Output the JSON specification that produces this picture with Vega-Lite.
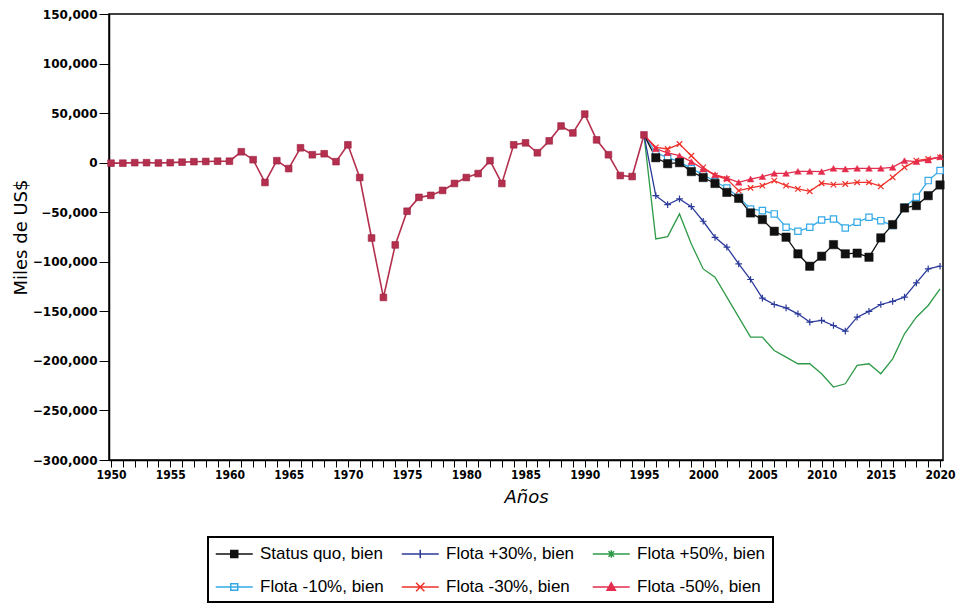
{
  "$schema": "https://vega.github.io/schema/vega-lite/v6.json",
  "width": 834,
  "height": 446,
  "autosize": {"type": "none"},
  "padding": {"left": 109, "top": 14, "right": 15, "bottom": 147},
  "background": "white",
  "config": {
    "view": {"stroke": "black", "strokeWidth": 1.5},
    "axis": {"domainColor": "black", "domainWidth": 1.5, "tickColor": "black", "labelColor": "black", "titleColor": "black", "grid": false},
    "legend": {"strokeWidth": 2}
  },
  "datasets": {
    "hist": [
      {"year": 1950, "value": -500}, {"year": 1951, "value": -500}, {"year": 1952, "value": 0}, {"year": 1953, "value": 0},
      {"year": 1954, "value": -300}, {"year": 1955, "value": 0}, {"year": 1956, "value": 500}, {"year": 1957, "value": 1000},
      {"year": 1958, "value": 1200}, {"year": 1959, "value": 1500}, {"year": 1960, "value": 1500}, {"year": 1961, "value": 11000},
      {"year": 1962, "value": 3000}, {"year": 1963, "value": -20000}, {"year": 1964, "value": 2000}, {"year": 1965, "value": -6000},
      {"year": 1966, "value": 15000}, {"year": 1967, "value": 8000}, {"year": 1968, "value": 9000}, {"year": 1969, "value": 1000},
      {"year": 1970, "value": 18000}, {"year": 1971, "value": -15000}, {"year": 1972, "value": -76000}, {"year": 1973, "value": -136000},
      {"year": 1974, "value": -83000}, {"year": 1975, "value": -49000}, {"year": 1976, "value": -35000}, {"year": 1977, "value": -33000},
      {"year": 1978, "value": -28000}, {"year": 1979, "value": -21000}, {"year": 1980, "value": -15000}, {"year": 1981, "value": -11000},
      {"year": 1982, "value": 2000}, {"year": 1983, "value": -21000}, {"year": 1984, "value": 18000}, {"year": 1985, "value": 20000},
      {"year": 1986, "value": 10000}, {"year": 1987, "value": 22000}, {"year": 1988, "value": 37000}, {"year": 1989, "value": 30000},
      {"year": 1990, "value": 49000}, {"year": 1991, "value": 23000}, {"year": 1992, "value": 8000}, {"year": 1993, "value": -13000},
      {"year": 1994, "value": -14000}, {"year": 1995, "value": 28000}
    ],
    "scen": [
      {"series": "Status quo, bien", "year": 1995, "value": 28000}, {"series": "Status quo, bien", "year": 1996, "value": 5000},
      {"series": "Status quo, bien", "year": 1997, "value": -1000}, {"series": "Status quo, bien", "year": 1998, "value": 0},
      {"series": "Status quo, bien", "year": 1999, "value": -9000}, {"series": "Status quo, bien", "year": 2000, "value": -15000},
      {"series": "Status quo, bien", "year": 2001, "value": -21000}, {"series": "Status quo, bien", "year": 2002, "value": -30000},
      {"series": "Status quo, bien", "year": 2003, "value": -36000}, {"series": "Status quo, bien", "year": 2004, "value": -50700},
      {"series": "Status quo, bien", "year": 2005, "value": -57400}, {"series": "Status quo, bien", "year": 2006, "value": -69200},
      {"series": "Status quo, bien", "year": 2007, "value": -75200}, {"series": "Status quo, bien", "year": 2008, "value": -92000},
      {"series": "Status quo, bien", "year": 2009, "value": -104500}, {"series": "Status quo, bien", "year": 2010, "value": -94400},
      {"series": "Status quo, bien", "year": 2011, "value": -82700}, {"series": "Status quo, bien", "year": 2012, "value": -92000},
      {"series": "Status quo, bien", "year": 2013, "value": -91300}, {"series": "Status quo, bien", "year": 2014, "value": -95400},
      {"series": "Status quo, bien", "year": 2015, "value": -75900}, {"series": "Status quo, bien", "year": 2016, "value": -62500},
      {"series": "Status quo, bien", "year": 2017, "value": -45700}, {"series": "Status quo, bien", "year": 2018, "value": -43300},
      {"series": "Status quo, bien", "year": 2019, "value": -33300}, {"series": "Status quo, bien", "year": 2020, "value": -22500},

      {"series": "Flota +30%, bien", "year": 1995, "value": 28000}, {"series": "Flota +30%, bien", "year": 1996, "value": -33300},
      {"series": "Flota +30%, bien", "year": 1997, "value": -42300}, {"series": "Flota +30%, bien", "year": 1998, "value": -36600},
      {"series": "Flota +30%, bien", "year": 1999, "value": -44400}, {"series": "Flota +30%, bien", "year": 2000, "value": -59100},
      {"series": "Flota +30%, bien", "year": 2001, "value": -75300}, {"series": "Flota +30%, bien", "year": 2002, "value": -85300},
      {"series": "Flota +30%, bien", "year": 2003, "value": -102100}, {"series": "Flota +30%, bien", "year": 2004, "value": -117900},
      {"series": "Flota +30%, bien", "year": 2005, "value": -136700}, {"series": "Flota +30%, bien", "year": 2006, "value": -143100},
      {"series": "Flota +30%, bien", "year": 2007, "value": -146500}, {"series": "Flota +30%, bien", "year": 2008, "value": -152500},
      {"series": "Flota +30%, bien", "year": 2009, "value": -160900}, {"series": "Flota +30%, bien", "year": 2010, "value": -159200},
      {"series": "Flota +30%, bien", "year": 2011, "value": -164300}, {"series": "Flota +30%, bien", "year": 2012, "value": -170000},
      {"series": "Flota +30%, bien", "year": 2013, "value": -155900}, {"series": "Flota +30%, bien", "year": 2014, "value": -150100},
      {"series": "Flota +30%, bien", "year": 2015, "value": -143100}, {"series": "Flota +30%, bien", "year": 2016, "value": -140000},
      {"series": "Flota +30%, bien", "year": 2017, "value": -135700}, {"series": "Flota +30%, bien", "year": 2018, "value": -121300},
      {"series": "Flota +30%, bien", "year": 2019, "value": -107200}, {"series": "Flota +30%, bien", "year": 2020, "value": -104500},

      {"series": "Flota +50%, bien", "year": 1995, "value": 28000}, {"series": "Flota +50%, bien", "year": 1996, "value": -76900},
      {"series": "Flota +50%, bien", "year": 1997, "value": -74600}, {"series": "Flota +50%, bien", "year": 1998, "value": -51700},
      {"series": "Flota +50%, bien", "year": 1999, "value": -82000}, {"series": "Flota +50%, bien", "year": 2000, "value": -107200},
      {"series": "Flota +50%, bien", "year": 2001, "value": -115600}, {"series": "Flota +50%, bien", "year": 2002, "value": -135700},
      {"series": "Flota +50%, bien", "year": 2003, "value": -155900}, {"series": "Flota +50%, bien", "year": 2004, "value": -176000},
      {"series": "Flota +50%, bien", "year": 2005, "value": -176000}, {"series": "Flota +50%, bien", "year": 2006, "value": -189500},
      {"series": "Flota +50%, bien", "year": 2007, "value": -196200}, {"series": "Flota +50%, bien", "year": 2008, "value": -202900},
      {"series": "Flota +50%, bien", "year": 2009, "value": -202900}, {"series": "Flota +50%, bien", "year": 2010, "value": -213000},
      {"series": "Flota +50%, bien", "year": 2011, "value": -226400}, {"series": "Flota +50%, bien", "year": 2012, "value": -223100},
      {"series": "Flota +50%, bien", "year": 2013, "value": -204600}, {"series": "Flota +50%, bien", "year": 2014, "value": -202900},
      {"series": "Flota +50%, bien", "year": 2015, "value": -213000}, {"series": "Flota +50%, bien", "year": 2016, "value": -197900},
      {"series": "Flota +50%, bien", "year": 2017, "value": -172700}, {"series": "Flota +50%, bien", "year": 2018, "value": -155900},
      {"series": "Flota +50%, bien", "year": 2019, "value": -144100}, {"series": "Flota +50%, bien", "year": 2020, "value": -127300},

      {"series": "Flota -10%, bien", "year": 1995, "value": 28000}, {"series": "Flota -10%, bien", "year": 1996, "value": 10000},
      {"series": "Flota -10%, bien", "year": 1997, "value": 5000}, {"series": "Flota -10%, bien", "year": 1998, "value": 1000},
      {"series": "Flota -10%, bien", "year": 1999, "value": -6000}, {"series": "Flota -10%, bien", "year": 2000, "value": -12000},
      {"series": "Flota -10%, bien", "year": 2001, "value": -19000}, {"series": "Flota -10%, bien", "year": 2002, "value": -25500},
      {"series": "Flota -10%, bien", "year": 2003, "value": -35000}, {"series": "Flota -10%, bien", "year": 2004, "value": -46700},
      {"series": "Flota -10%, bien", "year": 2005, "value": -48400}, {"series": "Flota -10%, bien", "year": 2006, "value": -51700},
      {"series": "Flota -10%, bien", "year": 2007, "value": -65200}, {"series": "Flota -10%, bien", "year": 2008, "value": -69200},
      {"series": "Flota -10%, bien", "year": 2009, "value": -65200}, {"series": "Flota -10%, bien", "year": 2010, "value": -57800},
      {"series": "Flota -10%, bien", "year": 2011, "value": -56800}, {"series": "Flota -10%, bien", "year": 2012, "value": -65900},
      {"series": "Flota -10%, bien", "year": 2013, "value": -60100}, {"series": "Flota -10%, bien", "year": 2014, "value": -55100},
      {"series": "Flota -10%, bien", "year": 2015, "value": -58500}, {"series": "Flota -10%, bien", "year": 2016, "value": -63500},
      {"series": "Flota -10%, bien", "year": 2017, "value": -45000}, {"series": "Flota -10%, bien", "year": 2018, "value": -34900},
      {"series": "Flota -10%, bien", "year": 2019, "value": -18100}, {"series": "Flota -10%, bien", "year": 2020, "value": -8000},

      {"series": "Flota -30%, bien", "year": 1995, "value": 28000}, {"series": "Flota -30%, bien", "year": 1996, "value": 15500},
      {"series": "Flota -30%, bien", "year": 1997, "value": 13800}, {"series": "Flota -30%, bien", "year": 1998, "value": 18800},
      {"series": "Flota -30%, bien", "year": 1999, "value": 7000}, {"series": "Flota -30%, bien", "year": 2000, "value": -4700},
      {"series": "Flota -30%, bien", "year": 2001, "value": -13100}, {"series": "Flota -30%, bien", "year": 2002, "value": -16500},
      {"series": "Flota -30%, bien", "year": 2003, "value": -28200}, {"series": "Flota -30%, bien", "year": 2004, "value": -25500},
      {"series": "Flota -30%, bien", "year": 2005, "value": -23200}, {"series": "Flota -30%, bien", "year": 2006, "value": -18100},
      {"series": "Flota -30%, bien", "year": 2007, "value": -23200}, {"series": "Flota -30%, bien", "year": 2008, "value": -26500},
      {"series": "Flota -30%, bien", "year": 2009, "value": -28900}, {"series": "Flota -30%, bien", "year": 2010, "value": -20800},
      {"series": "Flota -30%, bien", "year": 2011, "value": -22200}, {"series": "Flota -30%, bien", "year": 2012, "value": -21500},
      {"series": "Flota -30%, bien", "year": 2013, "value": -19800}, {"series": "Flota -30%, bien", "year": 2014, "value": -19800},
      {"series": "Flota -30%, bien", "year": 2015, "value": -23900}, {"series": "Flota -30%, bien", "year": 2016, "value": -14800},
      {"series": "Flota -30%, bien", "year": 2017, "value": -4700}, {"series": "Flota -30%, bien", "year": 2018, "value": 2000},
      {"series": "Flota -30%, bien", "year": 2019, "value": 3700}, {"series": "Flota -30%, bien", "year": 2020, "value": 5400},

      {"series": "Flota -50%, bien", "year": 1995, "value": 28000}, {"series": "Flota -50%, bien", "year": 1996, "value": 14000},
      {"series": "Flota -50%, bien", "year": 1997, "value": 10000}, {"series": "Flota -50%, bien", "year": 1998, "value": 7000},
      {"series": "Flota -50%, bien", "year": 1999, "value": 1000}, {"series": "Flota -50%, bien", "year": 2000, "value": -6400},
      {"series": "Flota -50%, bien", "year": 2001, "value": -12100}, {"series": "Flota -50%, bien", "year": 2002, "value": -15500},
      {"series": "Flota -50%, bien", "year": 2003, "value": -19800}, {"series": "Flota -50%, bien", "year": 2004, "value": -16500},
      {"series": "Flota -50%, bien", "year": 2005, "value": -14100}, {"series": "Flota -50%, bien", "year": 2006, "value": -10800},
      {"series": "Flota -50%, bien", "year": 2007, "value": -10800}, {"series": "Flota -50%, bien", "year": 2008, "value": -8700},
      {"series": "Flota -50%, bien", "year": 2009, "value": -8700}, {"series": "Flota -50%, bien", "year": 2010, "value": -9100},
      {"series": "Flota -50%, bien", "year": 2011, "value": -5700}, {"series": "Flota -50%, bien", "year": 2012, "value": -6400},
      {"series": "Flota -50%, bien", "year": 2013, "value": -5700}, {"series": "Flota -50%, bien", "year": 2014, "value": -5700},
      {"series": "Flota -50%, bien", "year": 2015, "value": -5700}, {"series": "Flota -50%, bien", "year": 2016, "value": -4700},
      {"series": "Flota -50%, bien", "year": 2017, "value": 2000}, {"series": "Flota -50%, bien", "year": 2018, "value": 1000},
      {"series": "Flota -50%, bien", "year": 2019, "value": 2700}, {"series": "Flota -50%, bien", "year": 2020, "value": 6000}
    ],
    "legendrows": [
      {"series": "Status quo, bien"}, {"series": "Flota +30%, bien"}, {"series": "Flota +50%, bien"},
      {"series": "Flota -10%, bien"}, {"series": "Flota -30%, bien"}, {"series": "Flota -50%, bien"}
    ]
  },
  "encoding": {
    "x": {
      "field": "year", "type": "quantitative",
      "scale": {"domain": [1949.83, 2020.25], "nice": false, "zero": false},
      "axis": {
        "values": [1950,1951,1952,1953,1954,1955,1956,1957,1958,1959,1960,1961,1962,1963,1964,1965,1966,1967,1968,1969,1970,1971,1972,1973,1974,1975,1976,1977,1978,1979,1980,1981,1982,1983,1984,1985,1986,1987,1988,1989,1990,1991,1992,1993,1994,1995,1996,1997,1998,1999,2000,2001,2002,2003,2004,2005,2006,2007,2008,2009,2010,2011,2012,2013,2014,2015,2016,2017,2018,2019,2020],
        "labelExpr": "datum.value % 5 === 0 ? format(datum.value, 'd') : ''",
        "labelOverlap": false,
        "labelFlush": false,
        "tickSize": 7,
        "labelPadding": 2,
        "labelFont": "DejaVu Sans Condensed",
        "labelFontWeight": "bold",
        "labelFontSize": 12,
        "title": "Años",
        "titleFont": "DejaVu Sans",
        "titleFontStyle": "italic",
        "titleFontWeight": "normal",
        "titleFontSize": 18,
        "titlePadding": 8
      }
    },
    "y": {
      "field": "value", "type": "quantitative",
      "scale": {"domain": [-300000, 150000], "nice": false, "zero": false},
      "axis": {
        "values": [-300000, -250000, -200000, -150000, -100000, -50000, 0, 50000, 100000, 150000],
        "format": ",d",
        "tickSize": 10,
        "labelPadding": 2,
        "labelFont": "DejaVu Sans",
        "labelFontWeight": "bold",
        "labelFontSize": 12,
        "labelFlush": false,
        "title": "Miles de US$",
        "titleFont": "DejaVu Sans",
        "titleFontWeight": "normal",
        "titleFontSize": 18,
        "titlePadding": 2
      }
    }
  },
  "layer": [
    {
      "mark": {"type": "rule", "color": "#2a3550", "strokeWidth": 1},
      "encoding": {"y": {"datum": 0}, "x": null}
    },
    {
      "data": {"name": "scen"},
      "transform": [{"filter": "datum.series === 'Flota +50%, bien'"}],
      "mark": {"type": "line", "strokeWidth": 1.3, "color": "#2e9a48"}
    },
    {
      "data": {"name": "scen"},
      "transform": [{"filter": "datum.series === 'Flota +30%, bien'"}],
      "mark": {"type": "line", "strokeWidth": 1.3, "color": "#2b3a9a"}
    },
    {
      "data": {"name": "scen"},
      "transform": [{"filter": "datum.series === 'Flota -10%, bien'"}],
      "mark": {"type": "line", "strokeWidth": 1.3, "color": "#35a9e6"}
    },
    {
      "data": {"name": "scen"},
      "transform": [{"filter": "datum.series === 'Status quo, bien'"}],
      "mark": {"type": "line", "strokeWidth": 1.3, "color": "#111111"}
    },
    {
      "data": {"name": "scen"},
      "transform": [{"filter": "datum.series === 'Flota -30%, bien'"}],
      "mark": {"type": "line", "strokeWidth": 1.3, "color": "#f0302a"}
    },
    {
      "data": {"name": "scen"},
      "transform": [{"filter": "datum.series === 'Flota -50%, bien'"}],
      "mark": {"type": "line", "strokeWidth": 1.3, "color": "#e42c4c"}
    },
    {
      "data": {"name": "scen"},
      "transform": [{"filter": "datum.series === 'Flota +30%, bien' && datum.year > 1995"}],
      "mark": {"type": "point", "shape": "M-1,0H1M0,-1V1", "size": 45, "stroke": "#2b3a9a", "strokeWidth": 1.2, "filled": false, "opacity": 1}
    },
    {
      "data": {"name": "scen"},
      "transform": [{"filter": "datum.series === 'Flota -10%, bien' && datum.year > 1995"}],
      "mark": {"type": "point", "shape": "square", "size": 40, "stroke": "#35a9e6", "fill": "white", "strokeWidth": 1.2, "opacity": 1}
    },
    {
      "data": {"name": "scen"},
      "transform": [{"filter": "datum.series === 'Flota -30%, bien' && datum.year > 1995"}],
      "mark": {"type": "point", "shape": "M-1,-1L1,1M-1,1L1,-1", "size": 30, "stroke": "#f0302a", "strokeWidth": 1.2, "filled": false, "opacity": 1}
    },
    {
      "data": {"name": "scen"},
      "transform": [{"filter": "datum.series === 'Flota -50%, bien' && datum.year > 1995"}],
      "mark": {"type": "point", "shape": "triangle-up", "size": 45, "fill": "#e42c4c", "stroke": "#e42c4c", "strokeWidth": 0.5, "filled": true, "opacity": 1}
    },
    {
      "data": {"name": "scen"},
      "transform": [{"filter": "datum.series === 'Status quo, bien' && datum.year > 1995"}],
      "mark": {"type": "point", "shape": "square", "size": 70, "fill": "#111111", "stroke": "#111111", "strokeWidth": 0.5, "filled": true, "opacity": 1}
    },
    {
      "data": {"name": "hist"},
      "mark": {"type": "line", "color": "#b4304e", "strokeWidth": 1.6}
    },
    {
      "data": {"name": "hist"},
      "mark": {"type": "point", "shape": "square", "size": 45, "fill": "#b4304e", "stroke": "#9a2040", "strokeWidth": 0.6, "filled": true, "opacity": 1}
    },
    {
      "data": {"name": "legendrows"},
      "mark": {"type": "point", "filled": true, "strokeWidth": 1.5, "opacity": 1},
      "encoding": {
        "stroke": {
          "field": "series", "type": "nominal",
          "scale": {"domain": ["Status quo, bien", "Flota +30%, bien", "Flota +50%, bien", "Flota -10%, bien", "Flota -30%, bien", "Flota -50%, bien"],
                    "range": ["#111111", "#2b3a9a", "#2e9a48", "#35a9e6", "#f0302a", "#e42c4c"]},
          "legend": {
            "orient": "none", "legendX": 99, "legendY": 523, "columns": 3, "direction": "horizontal", "title": null,
            "labelFont": "Liberation Sans", "labelFontSize": 17, "labelColor": "black",
            "symbolSize": 342, "symbolStrokeWidth": 1.5, "labelOffset": 25,
            "columnPadding": 14, "rowPadding": 15, "padding": 7,
            "strokeColor": "black", "fillColor": "white", "symbolLimit": 0
          }
        },
        "fill": {
          "field": "series", "type": "nominal",
          "scale": {"domain": ["Status quo, bien", "Flota +30%, bien", "Flota +50%, bien", "Flota -10%, bien", "Flota -30%, bien", "Flota -50%, bien"],
                    "range": ["#111111", "#2b3a9a", "#2e9a48", "#ffffff", "#f0302a", "#e42c4c"]},
          "legend": {
            "orient": "none", "legendX": 99, "legendY": 523, "columns": 3, "direction": "horizontal", "title": null,
            "labelFont": "Liberation Sans", "labelFontSize": 17, "labelColor": "black",
            "symbolSize": 342, "symbolStrokeWidth": 1.5, "labelOffset": 25,
            "columnPadding": 14, "rowPadding": 15, "padding": 7,
            "strokeColor": "black", "fillColor": "white", "symbolLimit": 0
          }
        },
        "shape": {
          "field": "series", "type": "nominal",
          "scale": {"domain": ["Status quo, bien", "Flota +30%, bien", "Flota +50%, bien", "Flota -10%, bien", "Flota -30%, bien", "Flota -50%, bien"],
                    "range": [
                      "M-1,0H3M0.62,-0.38H1.38V0.38H0.62Z",
                      "M-1,0H3M1,-0.45V0.45",
                      "M-1,0H3M1,-0.4V0.4M0.7,-0.3L1.3,0.3M0.7,0.3L1.3,-0.3",
                      "M-1,0H3M0.62,-0.34H1.38V0.34H0.62Z",
                      "M-1,0H3M0.55,-0.45L1.45,0.45M0.55,0.45L1.45,-0.45",
                      "M-1,0H3M1,-0.45L1.45,0.35H0.55Z"
                    ]},
          "legend": {
            "orient": "none", "legendX": 99, "legendY": 523, "columns": 3, "direction": "horizontal", "title": null,
            "labelFont": "Liberation Sans", "labelFontSize": 17, "labelColor": "black",
            "symbolSize": 342, "symbolStrokeWidth": 1.5, "labelOffset": 25,
            "columnPadding": 14, "rowPadding": 15, "padding": 7,
            "strokeColor": "black", "fillColor": "white", "symbolLimit": 0
          }
        }
      }
    }
  ]
}
